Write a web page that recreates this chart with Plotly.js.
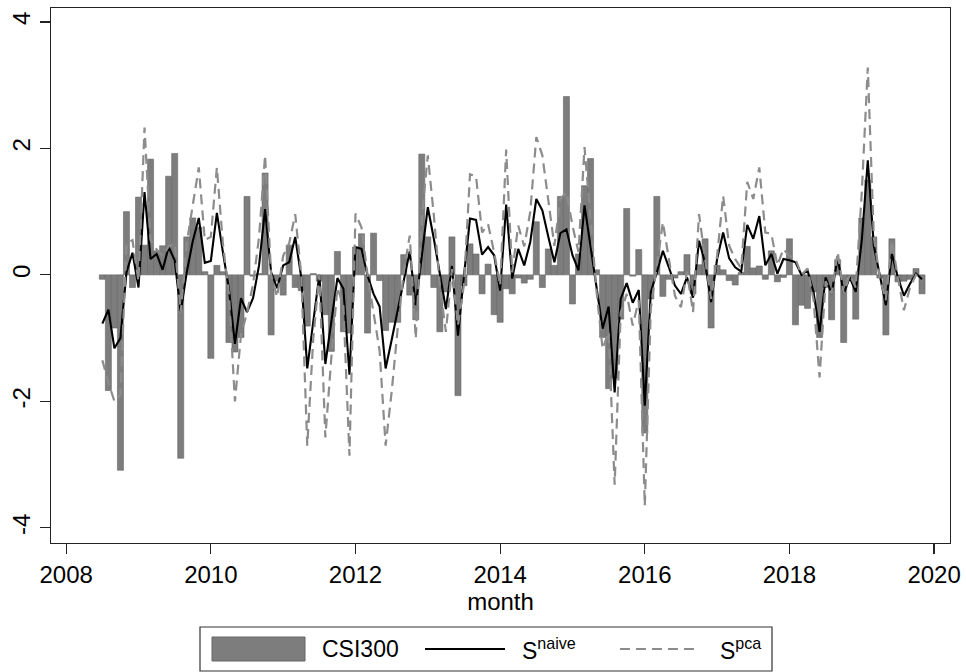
<!DOCTYPE html>
<html>
<head>
<meta charset="utf-8">
<script src="https://cdn.plot.ly/plotly-3.0.1.min.js"></script>
<style>
  html, body { margin: 0; padding: 0; background: #ffffff; }
  #chart { width: 966px; height: 672px; }
</style>
</head>
<body>
<div id="chart"></div>
<script>
// Monthly observations, 2008m7 .. 2019m11
const startYear = 2008;
const startMonth = 7;

const csi300 = [
  -0.07, -1.83, -0.84, -3.09, 1.00, -0.20, 1.23, 0.47, 1.83, 0.38, 0.46, 1.56,
  1.92, -2.90, 0.60, 0.90, 0.75, 0.05, -1.32, 0.15, 0.05, -1.07, -1.22, -0.99,
  1.24, -0.02, 0.02, 1.61, -0.95, -0.10, -0.32, 0.47, -0.20, -0.25, -0.81, 0.02,
  -0.10, -0.63, -1.21, 0.37, -0.90, -0.92, 0.44, 0.65, -0.92, 0.66, -0.09, -0.88,
  -0.75, -0.75, 0.32, -0.32, -0.71, 1.91, 0.60, -0.20, -0.90, -0.27, 0.60, -1.91,
  -0.17, 0.49, 0.33, -0.30, 0.17, -0.63, -0.75, -0.22, -0.30, -0.05, -0.13, -0.07,
  0.84, -0.20, 0.41, 0.15, 1.24, 2.82, -0.46, 0.33, 1.41, 1.84, 0.08, -0.99,
  -1.80, -1.63, -0.70, 1.05, -0.02, 0.40, -2.50, -0.38, 1.24, -0.34, -0.07, -0.05,
  0.05, 0.32, -0.30, 0.16, 0.57, -0.84, 0.15, 0.08, -0.09, -0.16, 0.04, 0.45,
  0.11, 0.14, -0.07, 0.38, -0.11, -0.04, 0.57, -0.79, -0.48, -0.53, -0.27, -0.99,
  -0.20, -0.71, 0.24, -1.07, -0.05, -0.70, 0.90, 1.50, 0.60, -0.05, -0.95, 0.57,
  -0.11, -0.10, -0.07, 0.10, -0.30
];

const sNaive = [
  -0.77, -0.55, -1.16, -1.00, 0.04, 0.35, -0.20, 1.31, 0.25, 0.33, 0.08, 0.44,
  0.23, -0.59, 0.04, 0.53, 0.90, 0.19, 0.22, 0.98, 0.36, -0.22, -1.09, -0.37,
  -0.59, -0.37, 0.15, 1.04, 0.04, -0.21, 0.15, 0.20, 0.60, -0.04, -1.48, -0.75,
  0.00, -1.41, -0.75, -0.05, -0.22, -1.58, 0.44, 0.41, -0.01, -0.30, -0.50, -1.48,
  -1.03, -0.58, -0.13, 0.37, -0.48, 0.25, 1.07, 0.57, 0.04, -0.54, 0.14, -0.96,
  -0.01, 0.89, 0.87, 0.32, 0.44, 0.31, -0.25, 1.11, -0.06, 0.41, 0.15, 0.52,
  1.20, 1.02, 0.60, 0.20, 0.66, 0.72, 0.31, 0.07, 1.10, 0.46, -0.17, -0.85,
  -0.50, -1.86, -0.38, -0.13, -0.44, -0.24, -2.07, -0.27, 0.04, 0.38, 0.12, -0.17,
  -0.30, -0.04, -0.36, 0.54, 0.19, -0.43, 0.25, 0.67, 0.26, 0.12, 0.05, 0.79,
  0.57, 0.93, 0.15, 0.33, 0.02, 0.25, 0.23, 0.20, 0.00, 0.07, -0.27, -0.90,
  -0.04, -0.30, 0.28, -0.30, -0.04, -0.27, 0.54, 1.81, 0.46, -0.01, -0.48, 0.33,
  -0.04, -0.33, -0.14, 0.02, -0.07
];

const sPca = [
  -1.35, -1.70, -2.00, -1.90, 0.50, 0.55, -0.10, 2.33, 0.55, 0.40, 0.30, 0.45,
  0.50, -0.60, 0.50, 1.10, 1.70, 0.55, 0.60, 1.70, 0.50, -0.30, -2.00, -0.95,
  -0.60, -0.15, 0.60, 1.89, 0.00, -0.35, 0.30, 0.50, 0.96, 0.00, -2.70, -1.00,
  0.00, -2.57, -1.30, -0.20, -0.50, -2.86, 0.97, 0.75, 0.00, -0.60, -1.20, -2.70,
  -1.85, -0.85, 0.04, 0.62, -1.01, 0.90, 1.89, 0.94, -0.17, -0.90, 0.09, -0.80,
  -0.15, 1.59, 1.56, 0.67, 0.80, 0.36, -0.17, 1.98, 0.04, 0.78, 0.45, 1.00,
  2.18, 1.89, 1.20, 0.46, 1.20, 1.31, 0.78, 0.36, 2.02, 0.80, -0.27, -1.17,
  -0.90, -3.32, -0.60, -0.30, -0.80, -0.40, -3.65, -0.53, 0.15, 0.83, 0.25, -0.33,
  -0.51, 0.05, -0.59, 0.96, 0.25, -0.38, 0.30, 1.25, 0.46, 0.25, 0.10, 1.47,
  1.20, 1.70, 0.67, 0.65, 0.15, 0.41, 0.30, 0.25, 0.00, 0.10, -0.40, -1.62,
  -0.10, -0.30, 0.36, -0.30, 0.00, -0.20, 1.30, 3.28, 0.60, -0.05, -0.40, 0.54,
  -0.05, -0.56, -0.20, 0.00, -0.10
];

const xTicks = [2008, 2010, 2012, 2014, 2016, 2018, 2020];
const yTicks = [-4, -2, 0, 2, 4];
const xTitle = 'month';
const legendLabels = ['CSI300', 'S<sup>naive</sup>', 'S<sup>pca</sup>'];

// month positions as decimal years (Stata-style year + (m-1)/12)
const months = csi300.map((_, i) => {
  const m = startMonth - 1 + i;
  return startYear + Math.floor(m / 12) + (m % 12) / 12;
});

const barColor = '#7d7d7d';
const barEdge = '#666666';
const naiveColor = '#000000';
const pcaColor = '#8c8c8c';
const fontFam = '"Liberation Sans", Arial, Helvetica, sans-serif';

const traces = [
  {
    type: 'bar', x: months, y: csi300, width: 1/12,
    marker: { color: barColor, line: { color: barEdge, width: 0.6 } },
    name: legendLabels[0], showlegend: false, hoverinfo: 'skip'
  },
  {
    type: 'scatter', mode: 'lines', x: months, y: sNaive,
    line: { color: naiveColor, width: 2.1 },
    name: legendLabels[1], showlegend: false
  },
  {
    type: 'scatter', mode: 'lines', x: months, y: sPca,
    line: { color: pcaColor, width: 2.2, dash: '10px,6px' },
    name: legendLabels[2], showlegend: false
  }
];

// plot area in pixels: x 51..950, y 8..543
const W = 966, H = 672, L = 51, R = 950, T = 8, B = 543;
const px = v => (v - L) / (R - L);
const py = v => (B - v) / (B - T);

const shapes = [
  { type: 'rect', xref: 'paper', yref: 'paper', x0: px(200), x1: px(772), y0: py(671), y1: py(627),
    line: { color: '#333333', width: 1.2 }, fillcolor: 'rgba(0,0,0,0)' },
  { type: 'rect', xref: 'paper', yref: 'paper', x0: px(212), x1: px(305), y0: py(661), y1: py(637),
    line: { color: barEdge, width: 1 }, fillcolor: barColor },
  { type: 'line', xref: 'paper', yref: 'paper', x0: px(425), x1: px(505), y0: py(649), y1: py(649),
    line: { color: naiveColor, width: 2.1 } },
  { type: 'line', xref: 'paper', yref: 'paper', x0: px(620), x1: px(700), y0: py(649), y1: py(649),
    line: { color: pcaColor, width: 2.2, dash: '10px,6px' } }
];

const annotations = [
  { xref: 'paper', yref: 'paper', x: px(320), y: py(649), xanchor: 'left', yanchor: 'middle',
    text: legendLabels[0], showarrow: false, font: { family: fontFam, size: 23, color: '#000' } },
  { xref: 'paper', yref: 'paper', x: px(520), y: py(649), xanchor: 'left', yanchor: 'middle',
    text: legendLabels[1], showarrow: false, font: { family: fontFam, size: 23, color: '#000' } },
  { xref: 'paper', yref: 'paper', x: px(718), y: py(649), xanchor: 'left', yanchor: 'middle',
    text: legendLabels[2], showarrow: false, font: { family: fontFam, size: 23, color: '#000' } }
];

const layout = {
  width: W, height: H,
  margin: { l: L, r: W - R, t: T, b: H - B, pad: 0 },
  paper_bgcolor: '#ffffff', plot_bgcolor: '#ffffff',
  showlegend: false,
  bargap: 0,
  font: { family: fontFam, size: 24, color: '#000' },
  xaxis: {
    range: [2007.79, 2020.22], tickmode: 'array', tickvals: xTicks,
    ticktext: xTicks.map(String),
    ticks: 'outside', ticklen: 10, tickwidth: 1.2, tickcolor: '#222',
    showline: true, linecolor: '#222', linewidth: 1.4, mirror: true,
    showgrid: false, zeroline: false,
    tickfont: { family: fontFam, size: 24, color: '#000' },
    title: { text: xTitle, font: { family: fontFam, size: 24, color: '#000' }, standoff: 2 }
  },
  yaxis: {
    range: [-4.24, 4.22], tickmode: 'array', tickvals: yTicks,
    ticktext: yTicks.map(String),
    ticks: 'outside', ticklen: 10, tickwidth: 1.2, tickcolor: '#222',
    showline: true, linecolor: '#222', linewidth: 1.4, mirror: true,
    showgrid: false, zeroline: false, tickangle: -90,
    tickfont: { family: fontFam, size: 24, color: '#000' }
  },
  shapes: shapes,
  annotations: annotations
};

Plotly.newPlot('chart', traces, layout, { displayModeBar: false, staticPlot: true });
</script>
</body>
</html>
